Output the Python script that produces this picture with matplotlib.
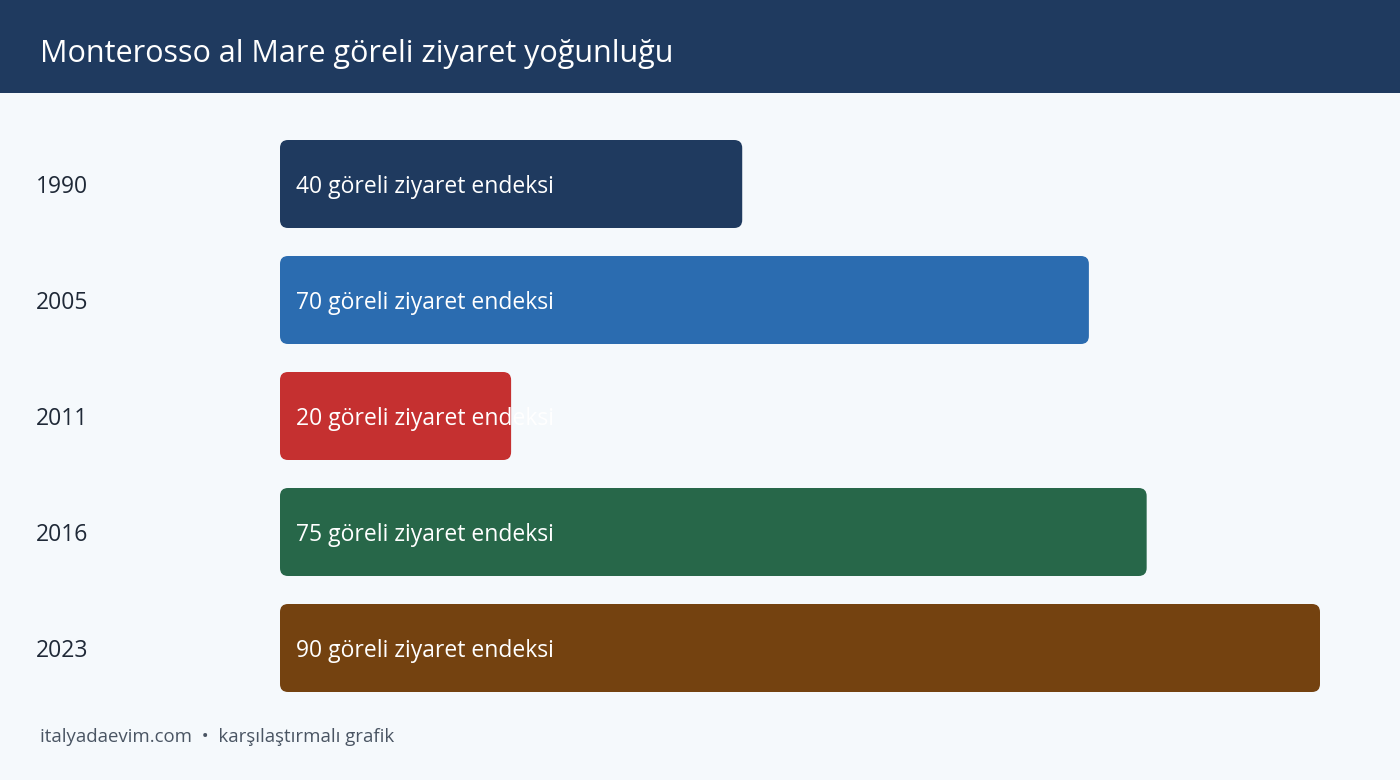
import matplotlib.pyplot as plt
from matplotlib.patches import FancyBboxPatch, Rectangle

years = ["1990", "2005", "2011", "2016", "2023"]
values = [40, 70, 20, 75, 90]
colors = ["#1f3a5f", "#2b6cb0", "#c53030", "#276749", "#744210"]
unit = "göreli ziyaret endeksi"
title = "Monterosso al Mare göreli ziyaret yoğunluğu"
footer = "italyadaevim.com  •  karşılaştırmalı grafik"

plt.rcParams['font.family'] = ['Open Sans', 'DejaVu Sans']

W, H = 1400, 780
fig = plt.figure(figsize=(W / 100, H / 100), dpi=100, facecolor="#f5f9fc")

# header band
fig.patches.append(Rectangle((0, 1 - 93 / H), 1, 93 / H, transform=fig.transFigure,
                             facecolor="#1f3a5f", edgecolor="none"))
fig.text(40 / W, 1 - 54 / H, title, color="white", fontsize=22, va="center", ha="left")

# bar area: x 280..1320 for 0..90, y slots of 116px starting at 126
ax = fig.add_axes([280 / W, 1 - 706 / H, 1040 / W, 580 / H])
ax.set_xlim(0, 90)
ax.set_ylim(len(years) - 0.5, -0.5)
ax.axis("off")

bar_h = 88 / 116
px_x = 1040 / 90
r = 8 / px_x
dy = 3 / 116
for i, (y, v, c) in enumerate(zip(years, values, colors)):
    box = FancyBboxPatch((0, i - bar_h / 2), v, bar_h,
                         boxstyle=f"round,pad=0,rounding_size={r}",
                         mutation_aspect=px_x / 116,
                         facecolor=c, edgecolor="none")
    ax.add_patch(box)
    ax.text(16 / px_x, i + dy, f"{v} {unit}", color="white", fontsize=16.5,
            va="center", ha="left")
    ax.text(-244 / px_x, i + dy, y, color="#1f2937", fontsize=16.5,
            va="center", ha="left", clip_on=False)

fig.text(40 / W, 1 - 737 / H, footer, color="#4a5563", fontsize=13.4,
         va="center", ha="left")

fig.savefig("out.png", dpi=100, facecolor=fig.get_facecolor())
